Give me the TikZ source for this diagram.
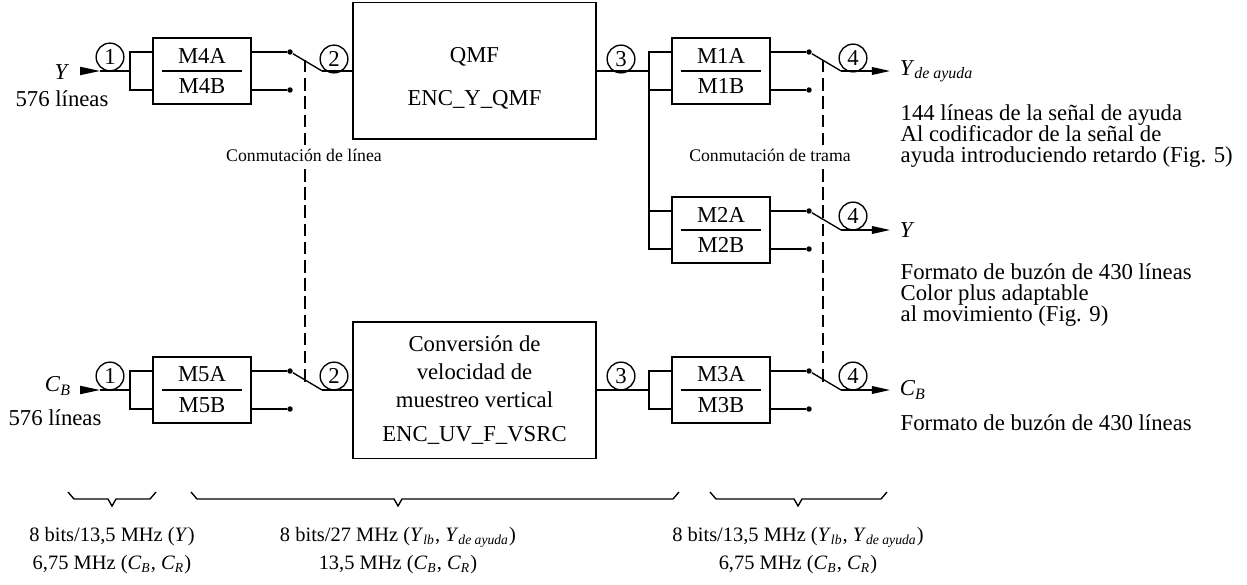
\documentclass[tikz,border=0pt]{standalone}
\usepackage{fontspec}
\setmainfont{Liberation Serif}
\usetikzlibrary{positioning,arrows.meta}

\newcommand{\isub}[2]{\textit{#1}\textsubscript{\textit{#2}}}

\begin{document}
\begin{tikzpicture}[
    x=0.44pt, y=-0.44pt,
    line width=0.6pt,
    mux/.style={draw, minimum width=43pt, minimum height=29pt, inner sep=0pt, align=center},
    block/.style={draw, minimum width=107pt, minimum height=60pt, inner sep=0pt, align=center,
      font=\fontsize{10}{12.3}\selectfont},
    divider/.style={line width=1.3pt},
    pin/.style={circle, fill=black, inner sep=0pt, minimum size=2.4pt},
    num/.style={circle, draw, inner sep=0pt, minimum size=12.2pt},
    link/.style={line width=1pt, dash pattern=on 5.5pt off 2.5pt},
    intip/.style={-{Triangle[length=8.8pt, width=3.6pt]}},
    outtip/.style={-{Triangle[length=8pt, width=3.4pt]}},
    outlabel/.style={anchor=west, inner xsep=4pt, inner ysep=0pt},
    swlabel/.style={font=\fontsize{7.8}{9}\selectfont, fill=white, inner sep=1pt},
    note/.style={align=left, inner sep=0pt, font=\fontsize{10}{9.3}\selectfont},
    rate/.style={align=center, font=\fontsize{9}{12.3}\selectfont},
  ]
  \useasboundingbox (0,0) rectangle (1247,584);

  % Multiplexers with their switches
  \foreach \n/\x/\y/\lbl in {m4/202/71/M4, m5/202/390/M5, m1/721/71/M1, m2/721/230/M2, m3/721/390/M3} {
    \node[mux] (\n) at (\x,\y) {\lbl A\\[1.6pt]\lbl B};
    \draw[divider] ([xshift=4pt]\n.west) -- ([xshift=-4pt]\n.east);
    \coordinate (\n-bk) at (\x-72,\y);
    \coordinate (\n-sw) at (\x+120,\y);
    \node[pin] (\n-a) at (\x+88,\y-19) {};
    \node[pin] (\n-b) at (\x+88,\y+19) {};
    \draw (\n.west |- \n-a) -| (\n-bk) |- (\n.west |- \n-b);
    \draw (\n.east |- \n-a) -- (\n-a);
    \draw (\n.east |- \n-b) -- (\n-b);
    \draw (\n-a) -- (\n-sw);
  }

  % Processing blocks
  \node[block] (qmf) at (474.5,71) {\rule{0pt}{13pt}QMF\\[6.5pt]ENC\_Y\_QMF};
  \node[block] (vsrc) at (474.5,390) {Conversión de\\velocidad de\\muestreo vertical\\[3pt]ENC\_UV\_F\_VSRC};

  \draw (m4-sw) -- (qmf.west);
  \draw (qmf.east) -- (m1-bk);
  \draw (m1-bk) -- (m2-bk);
  \draw (m5-sw) -- (vsrc.west);
  \draw (vsrc.east) -- (m3-bk);

  % Inputs
  \node (yin) at (62,72) {\textit{Y}};
  \node (yin-lines) at (62,99) {576 líneas};
  \coordinate (yin-t) at (80,71);
  \coordinate (yin-h) at (100,71);
  \draw[intip] (yin-t) -- (yin-h);
  \draw (yin-h) -- (m4-bk);

  \node (cbin) at (58,386) {\isub{C}{B}};
  \node (cbin-lines) at (55,418) {576 líneas};
  \coordinate (cbin-t) at (80,390);
  \coordinate (cbin-h) at (100,390);
  \draw[intip] (cbin-t) -- (cbin-h);
  \draw (cbin-h) -- (m5-bk);

  % Outputs
  \node[outlabel] (yda) at (890,71) {\isub{Y}{de ayuda}};
  \node[outlabel] (yout) at (890,230) {\textit{Y}};
  \node[outlabel] (cbout) at (890,390) {\isub{C}{B}};
  \draw[outtip] (m1-sw) -- (yda.west);
  \draw[outtip] (m2-sw) -- (yout.west);
  \draw[outtip] (m3-sw) -- (cbout.west);

  \node[note, anchor=north west] (yda-note) at (900,104) {144 líneas de la señal de ayuda\\Al codificador de la señal de\\ayuda introduciendo retardo (Fig. 5)};
  \node[note, anchor=north west] (yout-note) at (900,263) {Formato de buzón de 430 líneas\\Color plus adaptable\\al movimiento (Fig. 9)};
  \node[note, anchor=west] (cbout-note) at (900,423) {Formato de buzón de 430 líneas};

  % Reference points
  \foreach \p/\x/\y in {1/110/57, 1/110/376, 2/334/59, 2/334/376, 3/621/59, 3/621/376, 4/853/58, 4/853/216, 4/853/376}
    \node[num] (pt\x-\y) at (\x,\y) {\p};

  % Ganged switching
  \coordinate (line-top) at (305,60);
  \coordinate (line-bot) at (305,383);
  \coordinate (frame-top) at (823,60);
  \coordinate (frame-bot) at (823,383);
  \draw[link] (line-top) -- (line-bot);
  \draw[link] (frame-top) -- (frame-bot);
  \node[swlabel] (line-sw) at (304,155) {Conmutación de línea};
  \node[swlabel] (frame-sw) at (770,155) {Conmutación de trama};

  % Rates
  \foreach \a/\m/\b in {68/112/156, 191/398/679, 710/798/887}
    \draw (\a,492) -- (\a+6,499) -- (\m-4,499) -- (\m,506) -- (\m+4,499) -- (\b-6,499) -- (\b,492);
  \node[rate] (rate-in) at (112,551) {8 bits/13,5 MHz (\textit{Y})\\6,75 MHz (\isub{C}{B}, \isub{C}{R})};
  \node[rate] (rate-mid) at (398,551) {8 bits/27 MHz (\isub{Y}{lb}, \isub{Y}{de ayuda})\\13,5 MHz (\isub{C}{B}, \isub{C}{R})};
  \node[rate] (rate-out) at (798,551) {8 bits/13,5 MHz (\isub{Y}{lb}, \isub{Y}{de ayuda})\\6,75 MHz (\isub{C}{B}, \isub{C}{R})};
\end{tikzpicture}
\end{document}
